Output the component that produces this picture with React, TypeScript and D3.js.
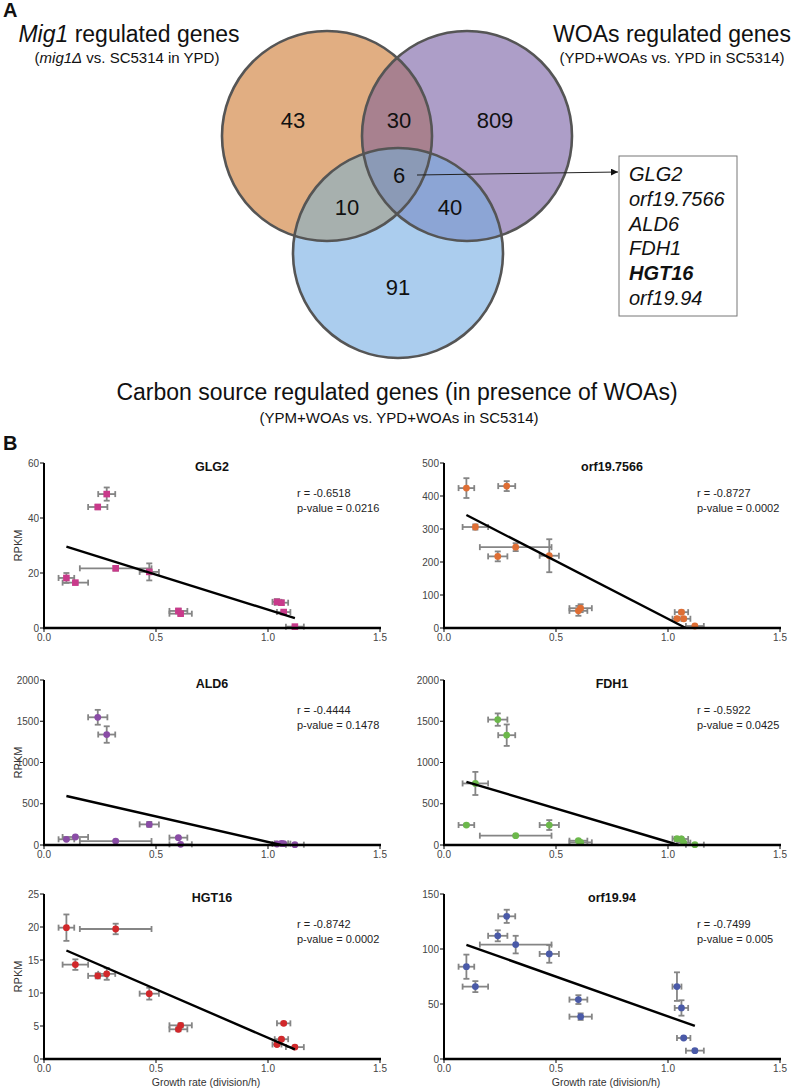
import * as d3 from "d3";

const FONT = "'Liberation Sans', Arial, Helvetica, sans-serif";

// ---- Venn (panel A) ----
const vennCounts = { mig: 43, migWoa: 30, woa: 809, all: 6, migCarbon: 10, woaCarbon: 40, carbon: 91 };
const sharedGenes = ["GLG2", "orf19.7566", "ALD6", "FDH1", "HGT16", "orf19.94"];

// ---- Scatter data (panel B) ----
const growthRate = [0.1, 0.14, 0.24, 0.28, 0.32, 0.47, 0.6, 0.61, 1.04, 1.06, 1.07, 1.12];
const growthRateSd = [0.035, 0.057, 0.043, 0.038, 0.16, 0.043, 0.04, 0.05, 0.02, 0.03, 0.03, 0.04];

const glg2 = [18.2, 16.5, 44.0, 48.7, 21.7, 20.4, 6.2, 5.2, 9.5, 9.2, 5.8, 0.5];
const glg2Sd = [1.8, 0.4, 0.8, 2.4, 0.8, 3.1, 0.8, 0.5, 1.0, 0.8, 0.5, 0.3];

const orf7566 = [424, 306, 217, 430, 245, 219, 52, 60, 28, 48, 28, 6];
const orf7566Sd = [30, 8, 15, 15, 12, 50, 15, 12, 5, 5, 5, 3];

const ald6 = [69, 97, 1548, 1339, 48, 250, 89, 8, 12, 20, 16, 4];
const ald6Sd = [10, 10, 90, 100, 8, 30, 10, 4, 4, 5, 4, 2];

const fdh1 = [242, 746, 1520, 1331, 113, 242, 52, 32, 77, 73, 28, 4];
const fdh1Sd = [15, 140, 75, 130, 8, 60, 12, 8, 10, 10, 6, 2];

const hgt16 = [19.9, 14.3, 12.6, 12.9, 19.7, 9.9, 4.5, 5.1, 2.2, 3.0, 5.4, 1.8];
const hgt16Sd = [2.0, 0.8, 0.4, 0.9, 0.8, 0.9, 0.3, 0.3, 0.2, 0.2, 0.2, 0.2];

const orf94 = [83.9, 65.8, 112, 129.7, 104, 95.5, 54, 38.5, 65.8, 46.4, 19.1, 7.6];
const orf94Sd = [11, 5, 5, 6, 8, 8, 4, 3, 13, 7, 1, 1];

const geneNames = ["GLG2", "orf19.7566", "ALD6", "FDH1", "HGT16", "orf19.94"];
const geneValues = [glg2, orf7566, ald6, fdh1, hgt16, orf94];
const geneSds = [glg2Sd, orf7566Sd, ald6Sd, fdh1Sd, hgt16Sd, orf94Sd];
const yMaxes = [60, 500, 2000, 2000, 25, 150];
const ySteps = [20, 100, 500, 500, 5, 50];
const rValues = ["-0.6518", "-0.8727", "-0.4444", "-0.5922", "-0.8742", "-0.7499"];
const pValues = ["0.0216", "0.0002", "0.1478", "0.0425", "0.0002", "0.005"];
const pointColors = ["#c93a8b", "#df6e34", "#8a4ca6", "#6cb84b", "#d1282b", "#4a5aa8"];

function linearFit(xs: number[], ys: number[]) {
  const mx = d3.mean(xs) as number
  const my = d3.mean(ys) as number
  const sxy = d3.sum(xs, (v, i) => (v - mx) * (ys[i] - my))
  const sxx = d3.sum(xs, (v) => (v - mx) ** 2)
  const slope = sxy / sxx
  return { slope, intercept: my - slope * mx }
}

const PANEL_W = 336
const PANEL_H = 165
const colX = [44, 444]
const rowY = [463, 680, 894]

function Scatter({ idx }: { idx: number }) {
  const col = idx % 2
  const row = Math.floor(idx / 2)
  const left = colX[col]
  const top = rowY[row]
  const values = geneValues[idx]
  const sds = geneSds[idx]
  const color = pointColors[idx]
  const x = d3.scaleLinear().domain([0, 1.5]).range([left, left + PANEL_W])
  const y = d3.scaleLinear().domain([0, yMaxes[idx]]).range([top + PANEL_H, top])
  const yTicks = d3.range(0, yMaxes[idx] + 1e-9, ySteps[idx])
  const xTicks = [0, 0.5, 1.0, 1.5]

  const { slope, intercept } = linearFit(growthRate, values)
  const xa = d3.min(growthRate) as number
  let xb = d3.max(growthRate) as number
  if (intercept + slope * xb < 0) xb = -intercept / slope
  const fitPath = d3.line<number>()
    .x((d) => x(d))
    .y((d) => y(intercept + slope * d))([xa, xb])

  const cap = 3
  return (
    <g>
      {/* error bars */}
      {growthRate.map((gx, i) => {
        const cx = x(gx)
        const cy = y(values[i])
        const x1 = x(gx - growthRateSd[i])
        const x2 = x(gx + growthRateSd[i])
        const y1 = y(values[i] + sds[i])
        const y2 = y(Math.max(0, values[i] - sds[i]))
        return (
          <g key={i} stroke="#858585" strokeWidth={1.8} fill="none">
            <line x1={x1} x2={x2} y1={cy} y2={cy} />
            <line x1={x1} x2={x1} y1={cy - cap} y2={cy + cap} />
            <line x1={x2} x2={x2} y1={cy - cap} y2={cy + cap} />
            <line x1={cx} x2={cx} y1={y1} y2={y2} />
            <line x1={cx - cap} x2={cx + cap} y1={y1} y2={y1} />
            <line x1={cx - cap} x2={cx + cap} y1={y2} y2={y2} />
          </g>
        )
      })}
      {/* points */}
      {growthRate.map((gx, i) =>
        idx === 0 ? (
          <rect key={i} x={x(gx) - 3.3} y={y(values[i]) - 3.3} width={6.6} height={6.6} fill={color} />
        ) : (
          <circle key={i} cx={x(gx)} cy={y(values[i])} r={3.4} fill={color} />
        )
      )}
      {/* regression */}
      <path d={fitPath || ""} stroke="#000" strokeWidth={2.4} fill="none" />

      {/* axes */}
      <line x1={left} x2={left} y1={top} y2={top + PANEL_H} stroke="#000" strokeWidth={2} />
      <line x1={left - 1} x2={left + PANEL_W + 1} y1={top + PANEL_H} y2={top + PANEL_H} stroke="#000" strokeWidth={2.6} />
      {yTicks.map((t) => (
        <g key={t}>
          <line x1={left - 4} x2={left} y1={y(t)} y2={y(t)} stroke="#000" strokeWidth={1} />
          <text x={left - 5} y={y(t) + 3.5} textAnchor="end" fontSize={10} fill="#444" fontFamily={FONT}>
            {t}
          </text>
        </g>
      ))}
      {xTicks.map((t) => (
        <g key={t}>
          <line x1={x(t)} x2={x(t)} y1={top + PANEL_H} y2={top + PANEL_H + 4} stroke="#000" strokeWidth={1} />
          <text x={x(t)} y={top + PANEL_H + 13} textAnchor="middle" fontSize={10} fill="#444" fontFamily={FONT}>
            {d3.format(".1f")(t)}
          </text>
        </g>
      ))}

      <text x={left + 168} y={top + 8} textAnchor="middle" fontSize={12.5} fontWeight="bold" fill="#111" fontFamily={FONT}>
        {geneNames[idx]}
      </text>
      <text x={left + 253} y={top + 34} fontSize={11} fill="#222" fontFamily={FONT}>
        r = {rValues[idx]}
      </text>
      <text x={left + 253} y={top + 49} fontSize={11} fill="#222" fontFamily={FONT}>
        p-value = {pValues[idx]}
      </text>
      {col === 0 && (
        <text
          transform={`translate(${left - 22},${top + PANEL_H / 2}) rotate(-90)`}
          textAnchor="middle"
          fontSize={11}
          fill="#333"
          fontFamily={FONT}
        >
          RPKM
        </text>
      )}
      {row === 2 && (
        <text x={left + 162} y={top + PANEL_H + 27} textAnchor="middle" fontSize={10.5} fill="#333" fontFamily={FONT}>
          Growth rate (division/h)
        </text>
      )}
    </g>
  )
}

function Venn() {
  const r = 105
  const cMig = { x: 327, y: 136 }
  const cWoa = { x: 467, y: 136 }
  const cCarb = { x: 398, y: 253 }
  const numStyle = { fontSize: 22, fill: "#111", fontFamily: FONT, textAnchor: "middle" as const }
  return (
    <g>
      <defs>
        <clipPath id="clipMig">
          <circle cx={cMig.x} cy={cMig.y} r={r} />
        </clipPath>
        <clipPath id="clipWoa">
          <circle cx={cWoa.x} cy={cWoa.y} r={r} />
        </clipPath>
        <marker id="arrow" viewBox="0 0 10 10" refX="10" refY="5" markerWidth="7" markerHeight="7" orient="auto">
          <path d="M0,0 L10,5 L0,10 z" fill="#111" />
        </marker>
      </defs>
      <circle cx={cMig.x} cy={cMig.y} r={r} fill="#e1ae82" />
      <circle cx={cWoa.x} cy={cWoa.y} r={r} fill="#ad9ec8" />
      <circle cx={cCarb.x} cy={cCarb.y} r={r} fill="#abcdee" />
      <circle cx={cWoa.x} cy={cWoa.y} r={r} fill="#a8818f" clipPath="url(#clipMig)" />
      <circle cx={cCarb.x} cy={cCarb.y} r={r} fill="#a7b0ae" clipPath="url(#clipMig)" />
      <circle cx={cCarb.x} cy={cCarb.y} r={r} fill="#8ca5d5" clipPath="url(#clipWoa)" />
      <g clipPath="url(#clipMig)">
        <circle cx={cCarb.x} cy={cCarb.y} r={r} fill="#8b9ab6" clipPath="url(#clipWoa)" />
      </g>
      {[cMig, cWoa, cCarb].map((c, i) => (
        <circle key={i} cx={c.x} cy={c.y} r={r} fill="none" stroke="#555" strokeWidth={2.6} />
      ))}
      <text x={293} y={128} {...numStyle}>{vennCounts.mig}</text>
      <text x={399} y={128} {...numStyle}>{vennCounts.migWoa}</text>
      <text x={495} y={128} {...numStyle}>{vennCounts.woa}</text>
      <text x={399} y={183} {...numStyle}>{vennCounts.all}</text>
      <text x={347} y={215} {...numStyle}>{vennCounts.migCarbon}</text>
      <text x={450} y={215} {...numStyle}>{vennCounts.woaCarbon}</text>
      <text x={398} y={295} {...numStyle}>{vennCounts.carbon}</text>

      <line x1={417} y1={175} x2={618} y2={172} stroke="#222" strokeWidth={1} markerEnd="url(#arrow)" />
      <rect x={619} y={156} width={118} height={160} fill="#fff" stroke="#777" strokeWidth={1} />
      {sharedGenes.map((g, i) => (
        <text
          key={g}
          x={629}
          y={181 + i * 24.8}
          fontSize={20}
          fontStyle="italic"
          fontWeight={g === "HGT16" ? "bold" : "normal"}
          fill="#111"
          fontFamily={FONT}
        >
          {g}
        </text>
      ))}

      <text x={129} y={42} textAnchor="middle" fontSize={23} fill="#111" fontFamily={FONT}>
        <tspan fontStyle="italic">Mig1</tspan> regulated genes
      </text>
      <text x={127} y={63} textAnchor="middle" fontSize={15} fill="#111" fontFamily={FONT}>
        (<tspan fontStyle="italic">mig1Δ</tspan> vs. SC5314 in YPD)
      </text>
      <text x={672} y={42} textAnchor="middle" fontSize={23} fill="#111" fontFamily={FONT}>
        WOAs regulated genes
      </text>
      <text x={672} y={63} textAnchor="middle" fontSize={15} fill="#111" fontFamily={FONT}>
        (YPD+WOAs vs. YPD in SC5314)
      </text>
      <text x={397} y={400} textAnchor="middle" fontSize={23} fill="#111" fontFamily={FONT}>
        Carbon source regulated genes (in presence of WOAs)
      </text>
      <text x={399} y={423} textAnchor="middle" fontSize={15} fill="#111" fontFamily={FONT}>
        (YPM+WOAs vs. YPD+WOAs in SC5314)
      </text>
    </g>
  )
}

export default function App() {
  return (
    <div style={{ position: "absolute", left: 0, top: 0 }}>
      <svg width={794} height={1090} viewBox="0 0 794 1090" style={{ display: "block", background: "#fff" }}>
        <text x={3} y={17} fontSize={20} fontWeight="bold" fill="#111" fontFamily={FONT}>A</text>
        <text x={3} y={450} fontSize={20} fontWeight="bold" fill="#111" fontFamily={FONT}>B</text>
        <Venn />
        {geneNames.map((_, i) => (
          <Scatter key={i} idx={i} />
        ))}
      </svg>
    </div>
  )
}
